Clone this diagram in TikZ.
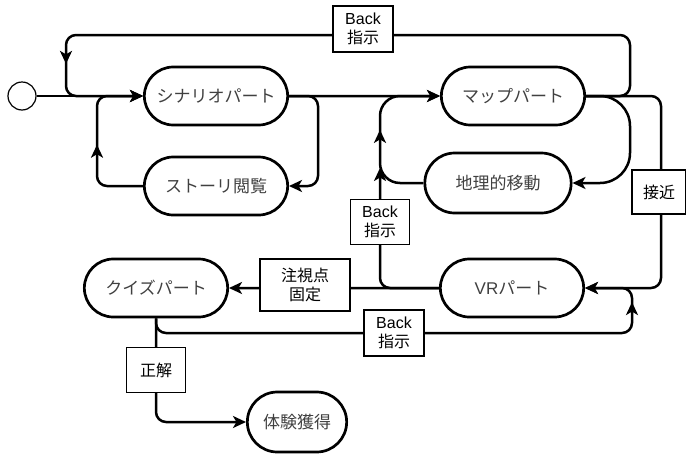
\documentclass[tikz,border=0pt]{standalone}
\usepackage{fontspec}
\setmainfont{Liberation Sans}
\newfontfamily\jp{Noto Sans CJK JP}
\usetikzlibrary{shapes.misc,arrows.meta,decorations.markings}

\tikzset{
  state/.style={rounded rectangle, draw, line width=2.7pt, minimum width=150pt,
    minimum height=58pt, text=black!75, font=\jp\fontsize{17}{20}\selectfont},
  lbl/.style={rectangle, draw, line width=1.2pt, fill=white, inner sep=2pt,
    align=center, font=\fontsize{16}{19}\selectfont},
  conn/.style={line width=2.5pt, rounded corners=10pt,
    -{Stealth[length=13pt,width=12pt,inset=3.5pt]}},
  midarrow/.style={postaction={decorate}, decoration={markings,
    mark=at position #1 with {\arrow{Stealth[length=13pt,width=12pt,inset=3.5pt]}}}}
}

\begin{document}
\begin{tikzpicture}[x=1pt,y=-1pt]
  \useasboundingbox (0,0) rectangle (686,453);

  % states
  \node[circle, draw, line width=1.2pt, minimum size=28pt, inner sep=0pt] (start) at (22,96) {};
  \node[state] (scenario) at (216,96) {シナリオパート};
  \node[state] (story) at (216,186) {ストーリ閲覧};
  \node[state] (map) at (513,96) {マップパート};
  \node[state, minimum width=153pt, minimum height=60pt] (geo) at (498,183) {地理的移動};
  \node[state] (vr) at (512,288) {{\normalfont VR}パート};
  \node[state] (quiz) at (156,288) {クイズパート};
  \node[state, minimum width=106pt, minimum height=60pt] (exp) at (297,422) {体験獲得};
  \coordinate (vrback) at (380,168);

  % transitions
  \draw[conn] (start) -- (scenario);
  \draw[conn] (scenario) -- (map);
  \draw[conn] (scenario.east) -- (318,96) |- (story.east);
  \draw[conn, midarrow=83pt] (story.west) -- (97,186) |- (scenario.west);
  \draw[conn, midarrow=685pt] (map.east) -- (630,96) -- (630,35) -| (66,96) -- (scenario.west);
  \draw[conn, rounded corners=30pt] (map.east) -- (630,96) |- (geo.east);
  \draw[conn] (map.east) -- (661,96) |- (vr.east);
  \draw[conn, rounded corners=20pt, midarrow=88pt] (geo.west) -- (380,183) |- (map.west);
  \draw[conn] (vr.west) -| (vrback);
  \draw[conn] (vr) -- (quiz);
  \draw[conn, midarrow=513pt] (quiz.south) |- (632,333) -- (632,288) -- (vr.east);
  \draw[conn] (quiz.south) |- (exp.west);

  % labels
  \node[lbl, minimum width=60pt, minimum height=46pt] (backtop) at (363,29) {Back\\{\jp 指示}};
  \node[lbl, minimum width=59pt, minimum height=45pt] (backmid) at (380,222) {Back\\{\jp 指示}};
  \node[lbl, minimum width=60pt, minimum height=46pt] (backlow) at (394,333) {Back\\{\jp 指示}};
  \node[lbl, minimum width=90pt, minimum height=52pt] (gaze) at (305,285) {{\jp 注視点}\\{\jp 固定}};
  \node[lbl, minimum width=54pt, minimum height=44pt] (near) at (659,192) {{\jp 接近}};
  \node[lbl, minimum width=59pt, minimum height=45pt] (correct) at (156,370) {{\jp 正解}};
\end{tikzpicture}
\end{document}
